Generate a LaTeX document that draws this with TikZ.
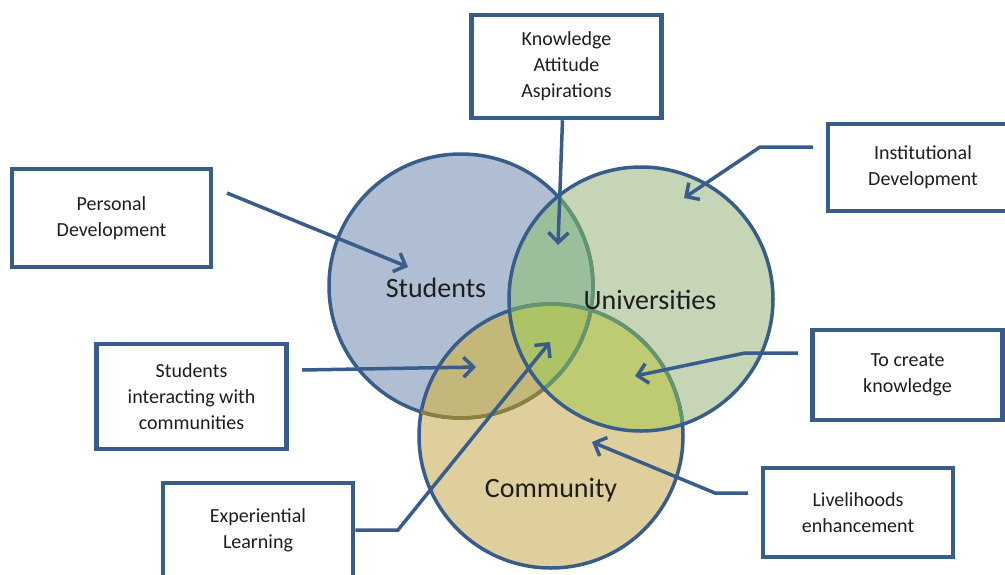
\documentclass[tikz,border=0pt]{standalone}
\usepackage{fontspec}
\setmainfont{Carlito}
\usetikzlibrary{arrows.meta}
\definecolor{edge}{RGB}{56,93,138}
\definecolor{gedge}{RGB}{98,150,112}
\definecolor{bedge}{RGB}{140,128,62}
\definecolor{stu}{RGB}{176,190,211}
\definecolor{uni}{RGB}{197,213,182}
\definecolor{com}{RGB}{223,207,156}
\definecolor{stucom}{RGB}{196,183,122}
\definecolor{stuuni}{RGB}{155,190,155}
\definecolor{unicom}{RGB}{190,203,115}
\definecolor{all}{RGB}{172,196,102}
\definecolor{txt}{RGB}{30,30,30}
\newcommand{\boxfont}{\fontsize{20}{26}\selectfont}
\newcommand{\setfont}{\fontsize{28}{34}\selectfont}
\newcommand{\rad}{132}

\begin{document}
\begin{tikzpicture}[x=1pt,y=-1pt,
  set/.style={circle,draw=edge,line width=3.5pt,minimum size=264pt},
  box/.style={rectangle,draw=edge,line width=4.5pt,fill=white,align=center,font=\boxfont,text=txt,minimum width=190pt},
  arr/.style={->,color=edge,line width=3.5pt},
  >={Straight Barb[length=10pt,width=20pt]}]
\useasboundingbox (0,0) rectangle (1005,574);
\clip (0,0) rectangle (1005,574);
% fills of the sets and their overlaps
\fill[stu] (461,286) circle (\rad);
\fill[com] (551,436) circle (\rad);
\fill[uni] (641,299) circle (\rad);
\begin{scope}
  \clip (461,286) circle (\rad);
  \fill[stucom] (551,436) circle (\rad);
  \fill[stuuni] (641,299) circle (\rad);
\end{scope}
\begin{scope}
  \clip (641,299) circle (\rad);
  \fill[unicom] (551,436) circle (\rad);
\end{scope}
\begin{scope}
  \clip (461,286) circle (\rad);
  \clip (641,299) circle (\rad);
  \fill[all] (551,436) circle (\rad);
\end{scope}
% outlines
\node[set] (S) at (461,286) {};
\node[set] (C) at (551,436) {};
\begin{scope}
  \clip (C.center) circle (\rad);
  \draw[bedge,line width=3.5pt] (S.center) circle (\rad);
\end{scope}
\begin{scope}
  \clip (641,299) circle (\rad);
  \draw[gedge,line width=3.5pt] (S.center) circle (\rad);
  \draw[gedge,line width=3.5pt] (C.center) circle (\rad);
\end{scope}
\node[set] (U) at (641,299) {};
\node[font=\setfont,text=txt] (SL) at (436,288) {Students};
\node[font=\setfont,text=txt] (UL) at (650,300) {Universities};
\node[font=\setfont,text=txt] (CL) at (551,490) {Community};
% boxes
\node[box,minimum height=103pt] (K) at (566.5,66.5) {Knowledge\\Attitude\\Aspirations};
\node[box,minimum height=87pt] (I) at (923,167.5) {Institutional\\Development};
\node[box,minimum height=98pt,minimum width=199pt] (P) at (111.5,218) {Personal\\Development};
\node[box,minimum height=105pt] (SI) at (191.5,396.5) {Students\\interacting with\\communities};
\node[box,minimum height=90pt] (TC) at (907.5,375) {To create\\knowledge};
\node[box,minimum height=89pt] (L) at (858,512.5) {Livelihoods\\enhancement};
\node[box,minimum height=94pt] (E) at (258,530) {Experiential\\Learning};
% arrows
\coordinate (tK) at (558,245);
\coordinate (tI) at (684,198);
\coordinate (tP) at (408,267);
\coordinate (tS) at (476,367);
\coordinate (tC) at (635,376);
\coordinate (tL) at (592,442);
\coordinate (tE) at (550,342);
\draw[arr] ([xshift=-4pt]K.south) -- (tK);
\draw[arr] (813,147) -- (760,147) -- (tI);
\draw[arr] (227,193) -- (tP);
\draw[arr] (302,370) -- (tS);
\draw[arr] (798,353) -- (745,353) -- (tC);
\draw[arr] (748,493) -- (715,493) -- (tL);
\draw[arr] (E.east) -- (398,530) -- (tE);
\end{tikzpicture}
\end{document}
